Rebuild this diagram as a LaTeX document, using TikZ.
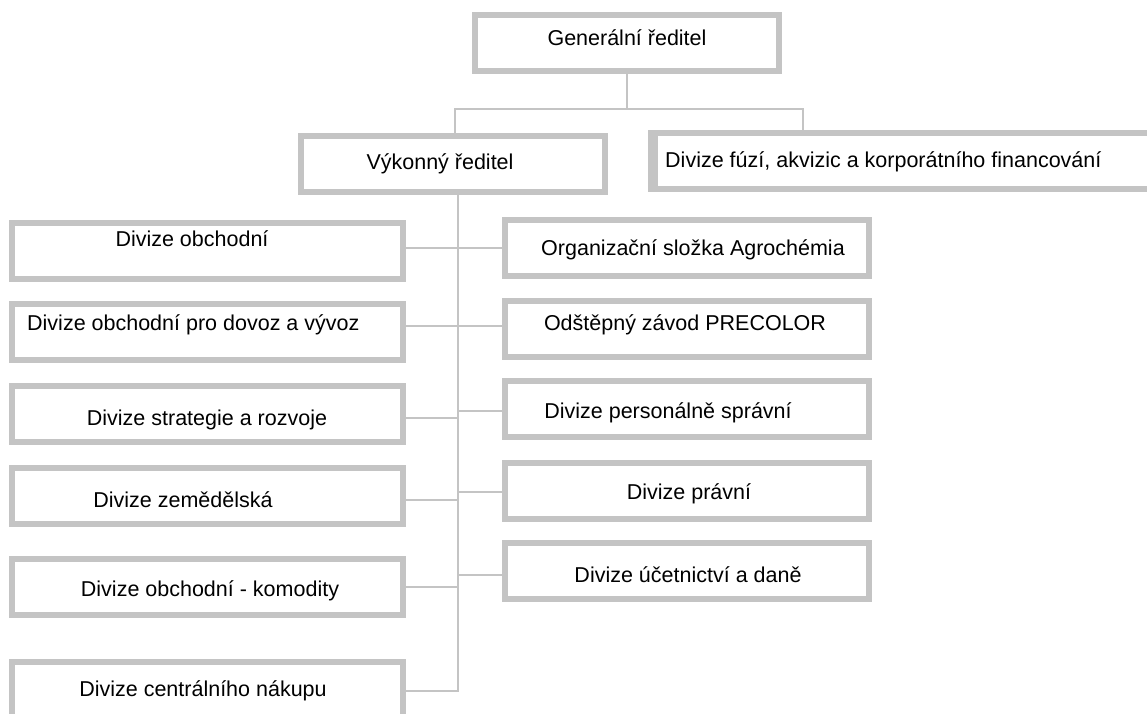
\documentclass[tikz,border=0pt]{standalone}
\usepackage{fontspec}
\setmainfont{Liberation Sans}
\definecolor{boxgray}{RGB}{196,196,196}
\begin{document}
\begin{tikzpicture}[x=1pt,y=-1pt,
  box/.style={draw=boxgray,line width=6pt,rectangle,inner sep=0pt,minimum width=#1,minimum height=56pt},
  lbl/.style={font=\fontsize{21.5}{26}\selectfont,anchor=base,inner sep=0pt,text=black},
  lblw/.style={lbl,anchor=base west},
  conn/.style={draw=boxgray,line width=2.2pt}]
\useasboundingbox (0,0) rectangle (1147,713);
\clip (0,0) rectangle (1147,713);
\fill[white] (0,0) rectangle (1147,713);

% top level
\node[box=304pt] (gen) at (627,43) {};
\node[lbl] (tgen) at (627,45) {Generální ředitel};
\node[box=304pt] (vyk) at (453,164) {};
\node[lbl] (tvyk) at (440,169) {Výkonný ředitel};
\node[box=514pt] (fuz) at (908,161) {};
\fill[boxgray] (648,130) rectangle (658,192);
\node[lblw] (tfuz) at (665,167) {Divize fúzí, akvizic a korporátního financování};

% left column
\node[box=391pt] (l1) at (207.5,250.5) {};
\node[box=391pt] (l2) at (207.5,331.5) {};
\node[box=391pt] (l3) at (207.5,413.5) {};
\node[box=391pt] (l4) at (207.5,495.5) {};
\node[box=391pt] (l5) at (207.5,587) {};
\node[box=391pt] (l6) at (207.5,689.5) {};
\node[lbl] (tl1) at (192,246) {Divize obchodní};
\node[lblw] (tl2) at (27,330) {Divize obchodní pro dovoz a vývoz};
\node[lbl] (tl3) at (207,425) {Divize strategie a rozvoje};
\node[lbl] (tl4) at (183,507) {Divize zemědělská};
\node[lbl] (tl5) at (210,596) {Divize obchodní - komodity};
\node[lbl] (tl6) at (203,696) {Divize centrálního nákupu};

% right column
\node[box=364pt] (r1) at (687,248) {};
\node[box=364pt] (r2) at (687,329) {};
\node[box=364pt] (r3) at (687,409) {};
\node[box=364pt] (r4) at (687,491) {};
\node[box=364pt] (r5) at (687,570.5) {};
\node[lbl] (tr1) at (693,255) {Organizační složka Agrochémia};
\node[lbl] (tr2) at (685,330) {Odštěpný závod PRECOLOR};
\node[lbl] (tr3) at (668,418) {Divize personálně správní};
\node[lbl] (tr4) at (689,499) {Divize právní};
\node[lbl] (tr5) at (688,582) {Divize účetnictví a daně};

% connectors top
\coordinate (busL) at (455,109);
\coordinate (busR) at (803,109);
\draw[conn] (gen.south) -- (gen.south |- busL);
\draw[conn] (busL |- vyk.north) -- (busL) -- (busR) -- (busR |- fuz.north);

% trunk
\coordinate (t1) at (458,248);
\coordinate (t2) at (458,326);
\coordinate (t3) at (458,418);
\coordinate (t3r) at (458,411);
\coordinate (t4) at (458,500);
\coordinate (t4r) at (458,492);
\coordinate (t5) at (458,587);
\coordinate (t5r) at (458,575);
\coordinate (t6) at (458,691);
\draw[conn,line join=miter] (t1 |- vyk.south) -- (t6) -- (l6.east |- t6);
\draw[conn] (l1.east |- t1) -- (r1.west |- t1);
\draw[conn] (l2.east |- t2) -- (r2.west |- t2);
\draw[conn] (l3.east |- t3) -- (t3);
\draw[conn] (t3r) -- (r3.west |- t3r);
\draw[conn] (l4.east |- t4) -- (t4);
\draw[conn] (t4r) -- (r4.west |- t4r);
\draw[conn] (l5.east |- t5) -- (t5);
\draw[conn] (t5r) -- (r5.west |- t5r);
\end{tikzpicture}
\end{document}
